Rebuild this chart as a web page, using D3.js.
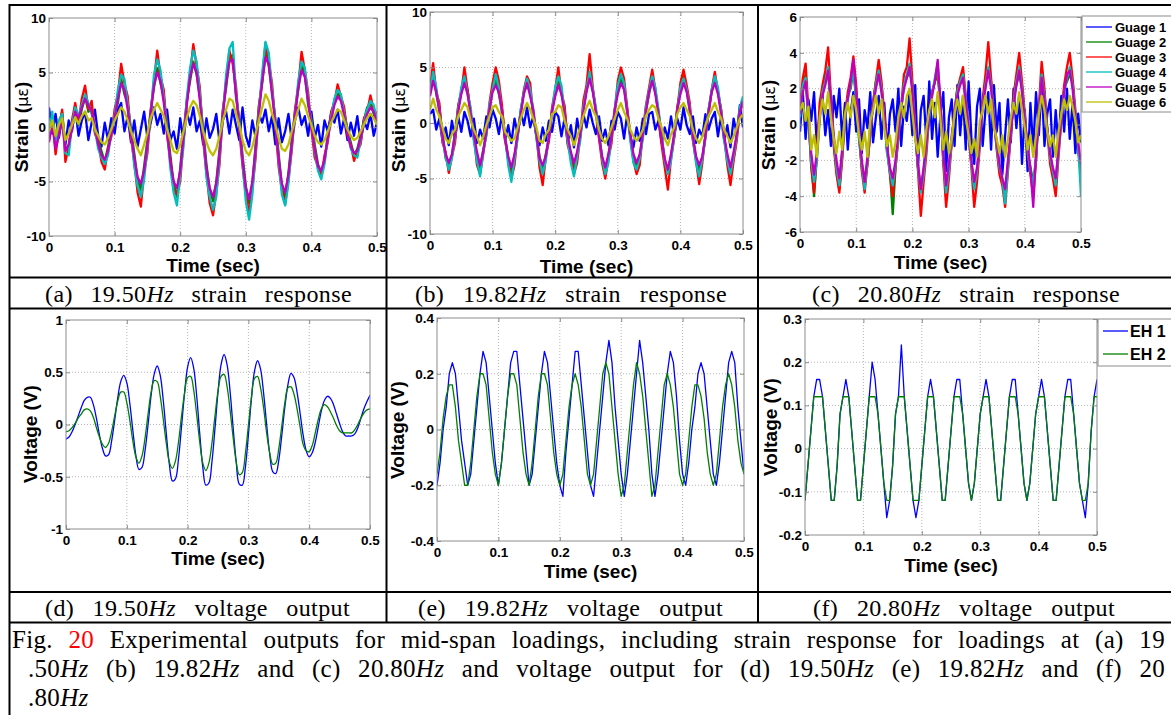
<!DOCTYPE html>
<html><head><meta charset="utf-8">
<script src="https://cdn.jsdelivr.net/npm/d3@7"></script>
<style>
body{margin:0;background:#fff;}
svg{display:block;}
</style></head><body>
<svg id="fig" width="1171" height="715"></svg>
<script>
// ---------------- data ----------------
const sampleStep = 0.005; // seconds between samples, t = 0 .. 0.5
const xTicks = [0, 0.1, 0.2, 0.3, 0.4, 0.5];
const xTickLabels = ["0", "0.1", "0.2", "0.3", "0.4", "0.5"];

const gaugeNames = ["Guage 1", "Guage 2", "Guage 3", "Guage 4", "Guage 5", "Guage 6"];
const gaugeColors = ["#0000ff", "#008000", "#ff0000", "#00bfbf", "#bf00bf", "#bfbf00"];
const ehNames = ["EH 1", "EH 2"];
const ehColors = ["#0000ff", "#008000"];

const yTicksA = [-10, -5, 0, 5, 10];
const yTicksB = [-10, -5, 0, 5, 10];
const yTicksC = [-6, -4, -2, 0, 2, 4, 6];
const yTicksD = [-1, -0.5, 0, 0.5, 1];
const yTicksE = [-0.4, -0.2, 0, 0.2, 0.4];
const yTicksF = [-0.2, -0.1, 0, 0.1, 0.2, 0.3];

// (a) 19.50 Hz strain (micro-strain)
const a_g1 = [1.8,-0.6,1.2,-1.0,0.8,-1.6,0.6,-0.4,1.8,-0.8,
 0.6,1.4,-1.2,0.4,1.6,-0.8,-1.8,0.4,-1.2,0.8,
 -0.6,1.6,2.2,-0.4,1.0,-1.4,0.6,-1.8,-0.2,1.4,
 -1.0,0.4,1.8,0.2,1.2,-0.6,1.6,-1.2,-0.4,-2.0,
 0.8,-1.2,1.4,0.2,1.8,-0.4,0.6,-1.6,0.8,-1.0,
 -0.2,1.2,-1.4,0.6,1.4,-0.6,1.6,0.2,-1.2,1.8,
 -0.8,-1.8,0.6,-1.0,1.2,0.4,1.6,-0.4,1.0,-1.6,
 0.8,-1.4,-0.4,1.2,-1.2,0.6,1.8,0.2,1.0,-0.8,
 1.4,-1.0,0.2,-1.8,0.6,-0.4,1.2,0.4,1.6,-0.6,
 0.8,-1.2,0.4,-0.8,1.0,-1.4,0.6,-0.2,1.2,-0.8,
 0.4];
const a_g2 = [-0.6,1.0,-1.2,0.2,1.4,-1.8,-2.0,0.4,1.2,0.2,
 1.6,2.8,1.4,1.8,-0.4,-1.2,-2.2,-3.2,-1.8,-0.2,
 1.2,2.2,4.4,3.0,2.2,-0.2,-2.4,-4.8,-5.8,-3.6,
 -1.2,1.6,3.6,5.4,4.0,2.8,0.2,-2.6,-5.2,-6.4,
 -3.8,-0.6,2.4,4.2,6.0,4.8,2.8,-0.2,-3.4,-5.8,
 -6.8,-5.0,-2.0,1.6,3.6,6.2,6.6,2.8,0.8,-2.6,
 -5.4,-7.0,-5.2,-1.6,2.0,4.0,6.8,5.6,3.2,0.8,
 -2.4,-5.6,-6.4,-4.2,-1.2,1.4,3.4,5.8,4.8,2.0,
 0.8,-1.6,-3.4,-4.2,-3.2,-0.6,1.0,2.4,3.2,2.6,
 1.4,-0.2,-1.4,-2.6,-2.0,-0.8,0.6,1.8,2.2,1.2,
 0.2];
const a_g3 = [-1.2,0.8,-2.5,-0.4,1.6,-3.2,-1.8,0.6,2.2,0.4,
 2.6,3.8,1.6,2.4,-0.6,-1.4,-3.2,-3.9,-2.0,-0.9,
 1.6,3.0,5.8,4.0,2.8,-1.0,-3.2,-6.0,-7.3,-4.2,
 -2.4,1.4,4.2,7.0,4.6,3.4,-0.8,-3.0,-5.8,-6.2,
 -5.0,-1.2,2.2,4.8,7.6,5.6,3.6,-1.2,-4.2,-7.0,
 -8.1,-6.0,-3.4,1.4,4.2,7.0,5.8,3.8,-0.2,-3.6,
 -6.2,-7.9,-5.6,-2.8,1.8,4.4,7.7,6.0,4.0,0.2,
 -3.6,-5.8,-7.1,-4.8,-2.2,1.6,3.8,6.9,5.2,3.2,
 -0.2,-2.8,-3.6,-4.6,-2.6,-1.4,1.4,2.2,3.9,2.8,
 1.8,-0.8,-1.6,-3.1,-2.2,-1.6,0.8,1.4,2.9,1.6,
 1.2];
const a_g4 = [-0.8,1.4,-1.6,0.6,1.2,-2.4,-2.6,0.2,1.8,1.0,
 2.0,3.0,2.2,1.2,-0.2,-2.0,-2.8,-3.4,-2.6,-0.4,
 1.0,3.4,4.8,4.4,2.0,-0.4,-3.6,-5.4,-6.4,-4.8,
 -1.8,1.0,4.8,6.2,5.2,2.6,-0.2,-3.8,-6.0,-7.2,
 -4.4,-1.8,2.6,5.4,7.0,6.0,3.0,-0.6,-4.6,-6.4,
 -7.6,-6.4,-2.8,1.0,4.8,7.2,7.8,3.2,0.4,-3.2,
 -6.8,-8.5,-6.2,-2.2,1.4,5.0,7.8,6.8,3.4,0.6,
 -3.0,-6.2,-7.2,-5.2,-1.8,1.0,4.2,6.0,5.4,2.6,
 0.4,-2.2,-4.0,-4.8,-3.4,-1.0,0.8,2.6,3.4,3.0,
 1.2,-0.4,-2.0,-2.6,-2.8,-1.2,0.4,1.6,2.4,2.0,
 0.6];
const a_g5 = [-1.4,0.4,-2.0,-0.8,0.8,-2.2,-1.6,-0.2,1.4,0.8,
 1.8,2.6,2.0,1.4,0.0,-1.6,-2.6,-3.0,-2.2,-0.6,
 0.8,2.6,4.0,3.4,1.6,-0.6,-2.8,-4.6,-5.2,-4.0,
 -1.6,1.2,3.8,5.0,4.2,2.2,-0.4,-3.2,-5.0,-5.6,
 -4.0,-1.0,2.0,4.6,5.8,5.0,2.4,-0.8,-3.8,-5.6,
 -6.4,-5.2,-2.4,1.0,4.0,6.0,6.2,3.0,0.2,-3.0,
 -5.6,-6.6,-5.0,-2.0,1.2,4.2,6.4,5.8,3.0,0.4,
 -2.8,-5.2,-6.0,-4.4,-1.6,1.0,3.6,5.2,4.6,2.4,
 0.2,-2.0,-3.6,-4.0,-3.0,-1.0,0.6,2.0,2.8,2.4,
 1.0,-0.6,-1.8,-2.4,-2.2,-1.0,0.2,1.2,1.8,1.4,
 0.4];
const a_g6 = [-0.4,0.6,-0.8,0.2,0.8,-1.2,-0.6,0.2,0.9,0.3,
 1.0,1.4,0.6,0.8,-0.2,-0.8,-1.4,-1.6,-1.0,-0.2,
 0.6,1.2,1.8,1.4,0.6,-0.4,-1.2,-2.0,-2.6,-1.6,
 -0.6,0.8,1.6,2.2,1.6,1.0,-0.2,-1.2,-2.2,-2.4,
 -1.6,-0.4,0.8,1.8,2.4,2.0,1.0,-0.4,-1.4,-2.2,
 -2.6,-2.0,-0.8,0.6,1.6,2.6,2.4,1.2,0.2,-1.2,
 -2.2,-2.6,-1.8,-0.6,0.6,1.8,3.0,2.4,1.2,0.2,
 -1.0,-2.0,-2.2,-1.6,-0.4,0.6,1.6,2.6,2.0,1.0,
 0.2,-0.8,-1.4,-1.6,-1.2,-0.4,0.4,1.0,1.6,1.4,
 0.6,-0.2,-0.8,-1.2,-1.0,-0.4,0.2,0.8,1.2,0.8,
 0.2];

// (b) 19.82 Hz strain
const b_g1 = [0.8,
 1.2,-0.6,0.4,-1.6,-0.4,-2.0,0.2,-1.4,0.6,-0.8,
 1.0,0.2,-1.2,0.4,-1.8,-0.6,-1.4,0.6,-0.4,1.2,
 0.4,-1.0,0.8,-1.6,-0.2,-1.8,0.4,-1.0,1.0,-0.2,
 1.4,-0.4,0.6,-1.2,-2.0,-0.4,-1.6,0.2,-0.8,1.0,
 0.6,-1.2,0.4,-1.8,-0.2,-2.2,0.4,-1.2,0.8,-0.4,
 1.2,0.0,-1.0,0.6,-1.6,-0.6,-2.0,0.2,-0.6,1.0,
 0.4,-1.4,0.8,-1.2,-2.2,-0.4,-1.6,0.4,-1.0,0.8,
 1.0,-0.6,0.2,-1.8,-0.4,-1.4,0.6,-1.2,0.4,-0.6,
 1.4,-0.2,-1.0,0.6,-1.8,-0.6,-1.2,0.8,-0.6,0.4,
 1.0,-1.2,0.6,-1.6,-0.2,-2.2,0.4,-1.0,1.6,-0.4];
const b_g2 = [2.8,
 4.8,2.6,1.4,-1.0,-3.2,-3.8,-3.0,-0.8,1.4,2.8,
 3.8,3.0,1.0,-1.4,-3.0,-4.0,-2.4,-1.0,1.0,3.2,
 3.8,2.6,1.2,-1.2,-3.4,-4.4,-3.0,-1.2,1.2,2.8,
 3.4,2.8,0.8,-1.2,-3.0,-4.2,-2.8,-1.4,1.2,2.6,
 4.0,2.8,1.2,-1.4,-3.0,-4.0,-2.8,-1.2,1.2,3.0,
 4.4,3.0,1.2,-1.0,-3.2,-4.2,-3.0,-1.0,1.0,3.0,
 4.0,3.2,1.2,-1.2,-3.0,-4.0,-3.0,-1.2,1.2,2.6,
 4.0,2.8,1.0,-1.2,-3.4,-4.4,-3.0,-1.2,1.4,3.0,
 4.2,3.0,1.0,-1.4,-3.2,-4.2,-3.2,-1.2,1.2,2.8,
 4.0,2.8,1.2,-1.4,-3.2,-4.4,-3.2,-1.2,1.2,1.6];
const b_g3 = [3.2,
 5.4,2.8,1.8,-1.8,-2.6,-4.5,-3.0,-1.8,1.6,2.8,
 5.0,3.0,0.8,-1.0,-3.8,-4.6,-2.8,-0.8,1.8,3.6,
 5.0,3.8,1.6,-1.6,-3.2,-5.0,-3.8,-1.0,0.8,3.0,
 4.2,3.6,0.6,-1.0,-4.0,-5.6,-3.0,-1.6,1.4,3.0,
 5.0,2.6,1.6,-2.0,-3.0,-4.6,-3.6,-1.2,2.0,3.4,
 6.2,3.2,1.0,-1.4,-3.6,-5.0,-3.2,-1.8,1.0,3.8,
 5.0,4.0,1.4,-1.2,-3.4,-4.6,-3.8,-0.8,1.6,3.2,
 4.8,3.0,0.6,-2.0,-4.0,-6.0,-3.2,-1.4,1.2,3.6,
 4.8,3.4,1.8,-1.6,-3.4,-5.5,-3.6,-1.0,0.8,3.0,
 4.6,2.8,1.2,-1.2,-3.8,-5.6,-3.4,-1.6,1.0,2.0];
const b_g4 = [2.6,
 4.6,3.2,1.0,-1.4,-3.0,-4.2,-3.2,-1.2,1.2,3.2,
 4.2,2.6,1.4,-1.6,-3.4,-4.8,-2.6,-1.2,1.6,3.0,
 4.4,3.2,0.8,-1.2,-3.8,-5.3,-3.2,-1.4,1.2,2.8,
 4.0,3.0,1.2,-1.4,-3.4,-4.6,-3.4,-1.0,1.0,3.2,
 4.2,3.4,0.8,-1.6,-3.6,-4.8,-3.0,-1.6,1.4,3.0,
 4.6,3.0,1.4,-1.0,-3.2,-4.6,-3.6,-1.2,1.2,3.4,
 4.4,3.6,1.0,-1.6,-3.6,-4.2,-3.2,-1.4,1.4,3.0,
 4.2,3.2,1.2,-1.2,-3.4,-4.6,-3.4,-1.2,1.0,3.2,
 4.0,3.0,1.4,-1.4,-3.6,-4.8,-3.2,-1.4,1.2,3.0,
 4.2,3.2,1.0,-1.6,-3.4,-4.6,-3.0,-1.2,1.4,2.4];
const b_g5 = [2.4,
 3.8,2.8,1.0,-1.2,-2.8,-3.6,-2.8,-1.0,1.0,2.6,
 3.6,2.6,0.8,-1.0,-2.6,-3.8,-2.6,-0.8,1.2,2.8,
 3.4,2.8,1.0,-1.4,-3.0,-4.0,-2.8,-1.0,0.8,2.6,
 3.6,2.4,1.2,-1.0,-3.2,-3.8,-3.0,-1.2,1.0,2.4,
 3.4,2.6,0.8,-1.2,-2.6,-3.6,-2.6,-1.0,1.0,2.8,
 4.0,2.8,1.0,-1.2,-3.0,-4.0,-2.8,-1.2,1.2,2.6,
 3.6,3.0,1.0,-1.0,-2.8,-3.6,-2.8,-1.0,1.0,2.8,
 3.8,2.6,0.8,-1.4,-3.2,-4.2,-2.8,-1.0,1.2,2.6,
 3.6,2.8,1.2,-1.2,-3.0,-3.8,-3.0,-1.2,1.0,2.8,
 3.6,2.6,0.8,-1.2,-2.8,-4.0,-2.6,-1.0,1.0,2.0];
const b_g6 = [1.2,
 2.2,1.2,0.6,-0.4,-1.4,-1.8,-1.0,-0.6,0.6,1.2,
 1.8,1.4,0.2,-0.6,-1.2,-2.0,-1.2,-0.2,0.6,1.4,
 1.6,1.0,0.6,-0.8,-1.2,-1.6,-1.4,-0.4,0.4,1.2,
 1.8,1.2,0.4,-0.4,-1.6,-1.8,-1.0,-0.6,0.8,1.0,
 1.6,1.4,0.2,-0.6,-1.2,-2.0,-1.2,-0.4,0.6,1.4,
 2.0,1.2,0.6,-0.6,-1.4,-1.8,-1.2,-0.4,0.4,1.2,
 1.8,1.0,0.4,-0.6,-1.2,-1.6,-1.2,-0.6,0.6,1.2,
 1.6,1.4,0.4,-0.4,-1.4,-2.0,-1.0,-0.4,0.8,1.4,
 1.8,1.2,0.6,-0.6,-1.4,-1.8,-1.2,-0.2,0.6,1.2,
 1.8,1.0,0.4,-0.6,-1.2,-1.8,-1.2,-0.4,0.4,0.8];

// (c) 20.80 Hz strain
const c_g1 = [-0.4,1.8,-0.8,1.4,0.2,1.8,-1.2,0.6,1.6,-0.6,
 0.8,-1.2,1.6,0.4,2.0,-0.8,1.2,-1.4,0.6,1.8,
 -0.4,1.4,-1.6,0.8,-0.2,1.8,-1.0,0.4,1.6,-0.8,
 1.2,-1.6,0.6,1.4,-0.4,2.0,-1.2,1.0,0.2,1.8,
 -0.6,2.2,-2.4,0.8,1.6,-1.0,2.4,-0.8,1.2,-1.8,
 0.6,1.8,-2.6,0.4,1.4,-1.2,2.2,-0.6,1.6,-1.4,
 2.4,-0.8,-2.2,1.0,2.0,-1.2,0.8,1.8,-1.4,2.2,
 -0.4,1.2,-2.8,-0.6,1.4,-1.0,2.0,-0.2,1.6,-2.2,
 0.8,-2.6,1.2,-1.4,1.8,-0.6,2.4,-1.2,0.6,1.4,
 -1.8,0.8,-1.2,1.6,-0.4,2.0,-0.8,1.2,-1.6,0.6,
 -1.0];
const c_g2 = [0.8,2.0,2.8,0.2,-2.2,-4.0,-1.8,0.6,1.6,2.8,
 2.8,1.0,-1.0,-2.6,-3.6,-1.8,0.6,1.6,2.0,3.0,
 1.4,-0.8,-2.4,-3.4,-2.2,-0.4,1.2,2.4,2.6,2.2,
 0.2,-1.4,-2.6,-5.0,-2.4,-0.6,0.8,2.2,2.6,3.0,
 2.2,-0.6,-2.4,-3.6,-2.6,-1.0,0.4,1.8,2.4,2.8,
 1.0,-2.0,-3.6,-2.4,-1.0,0.6,2.0,2.4,2.6,1.4,
 -0.6,-2.2,-3.4,-2.8,-0.8,1.2,2.4,2.8,2.4,0.2,
 -1.2,-2.6,-3.2,-4.0,-2.2,-0.6,1.4,2.2,2.8,2.2,
 0.4,-1.6,-2.4,-3.2,-2.0,0.8,2.4,1.8,-0.4,-1.6,
 -2.8,-3.4,-1.2,0.6,2.0,2.4,2.8,2.4,0.4,-1.4,
 -3.0];
const c_g3 = [1.0,2.6,3.4,0.8,-2.4,-3.8,-1.6,1.2,2.2,3.0,
 4.3,1.6,-1.2,-2.8,-3.8,-2.0,0.4,1.8,2.6,3.8,
 2.2,-0.4,-2.6,-3.8,-2.2,-0.6,1.2,2.4,3.6,2.4,
 0.6,-1.4,-2.8,-4.0,-2.4,-0.8,1.0,2.8,3.2,4.8,
 2.4,-0.2,-2.6,-5.1,-3.2,-1.6,0.6,1.8,2.4,3.0,
 1.2,-2.2,-4.6,-3.0,-1.0,0.8,2.0,2.6,3.2,1.6,
 -0.6,-2.4,-4.6,-3.2,-1.2,1.4,2.8,4.6,2.6,0.4,
 -1.4,-2.8,-3.4,-4.6,-2.6,-0.6,1.6,2.8,4.0,2.4,
 0.6,-1.6,-2.8,-4.0,-2.0,1.0,3.5,2.0,-0.4,-2.2,
 -3.0,-4.0,-1.8,0.2,2.2,3.2,4.0,2.6,0.8,-1.4,
 -2.6];
const c_g4 = [0.4,2.2,2.6,0.4,-2.0,-3.2,-2.0,0.2,1.8,2.4,
 3.2,1.2,-0.8,-2.4,-3.4,-1.6,0.2,1.4,2.2,3.0,
 1.6,-0.6,-2.2,-3.6,-2.0,-0.4,1.0,2.2,3.0,2.0,
 0.2,-1.6,-2.6,-3.4,-2.2,-0.6,0.8,2.2,2.8,3.4,
 2.0,-0.4,-2.4,-3.8,-2.8,-1.2,0.4,1.6,2.6,3.4,
 1.0,-1.8,-3.8,-2.6,-0.8,0.6,1.8,2.4,2.8,1.4,
 -0.4,-2.2,-3.6,-2.6,-1.0,1.0,2.2,3.2,2.2,0.6,
 -1.2,-2.4,-3.0,-4.4,-2.4,-0.4,1.2,2.4,3.2,2.0,
 0.4,-1.4,-2.6,-3.4,-1.8,0.6,2.8,1.6,-0.2,-1.8,
 -2.6,-3.4,-1.6,0.4,1.8,2.6,3.2,2.2,0.6,-1.2,
 -4.0];
const c_g5 = [0.6,1.8,2.4,0.6,-1.6,-2.8,-1.6,0.4,1.6,2.2,
 3.0,1.4,-0.6,-2.0,-3.0,-1.4,0.4,1.4,2.4,3.6,
 1.8,-0.2,-2.0,-3.2,-1.8,-0.2,1.0,2.0,2.8,1.8,
 0.4,-1.2,-2.4,-3.0,-2.0,-0.4,1.0,2.0,2.6,3.2,
 1.8,-0.2,-2.2,-3.6,-2.4,-1.0,0.6,1.6,2.4,3.6,
 1.2,-1.6,-3.4,-2.2,-0.6,0.6,1.6,2.2,2.6,1.2,
 -0.2,-2.0,-3.2,-2.4,-0.8,1.0,2.0,3.0,2.0,0.4,
 -1.0,-2.2,-3.0,-3.6,-2.0,-0.4,1.0,2.2,3.0,1.8,
 0.2,-1.2,-2.4,-4.6,-1.6,0.4,2.6,1.4,-0.2,-1.6,
 -2.4,-3.0,-1.4,0.4,1.8,2.8,3.0,2.0,0.4,-1.0,
 -2.2];
const c_g6 = [0.8,1.2,0.2,1.0,-1.4,-0.6,-1.8,0.4,1.4,0.6,
 1.8,0.4,-0.8,-1.6,-0.4,-1.4,0.6,1.2,0.4,1.6,
 0.8,-0.6,-1.4,-0.4,-1.8,0.2,0.8,1.6,0.6,1.4,
 -0.2,-1.2,-0.6,-1.8,-1.0,0.4,1.2,0.4,1.6,2.0,
 0.6,-0.8,-1.6,-0.6,-1.8,-0.2,0.8,1.4,0.4,1.8,
 0.2,-1.4,-0.4,-1.6,-0.8,0.6,1.4,0.6,1.6,0.4,
 -0.6,-1.6,-0.8,-1.8,0.2,0.8,1.6,0.6,1.4,-0.2,
 -0.8,-1.6,-0.6,-1.8,-0.8,0.4,1.2,0.6,1.8,0.8,
 -0.2,-1.4,-0.6,-1.8,-0.6,0.6,1.6,0.8,-0.4,-1.2,
 -0.6,-1.8,-0.4,0.6,1.4,0.8,1.6,1.0,0.2,-1.0,
 -0.6];

// (d) 19.50 Hz voltage (V)
const d_eh1 = [-0.14,-0.12,-0.07,0.00,0.08,0.16,0.23,0.26,0.26,0.19,
 0.06,-0.10,-0.23,-0.30,-0.29,-0.16,0.04,0.25,0.41,0.47,
 0.40,0.20,-0.06,-0.30,-0.43,-0.41,-0.25,0.00,0.28,0.48,
 0.56,0.47,0.23,-0.09,-0.38,-0.54,-0.52,-0.33,-0.02,0.30,
 0.55,0.64,0.54,0.27,-0.09,-0.41,-0.58,-0.56,-0.36,-0.04,
 0.31,0.57,0.67,0.57,0.31,-0.04,-0.36,-0.57,-0.58,-0.41,
 -0.10,0.25,0.51,0.61,0.53,0.30,0.00,-0.28,-0.45,-0.47,
 -0.34,-0.10,0.17,0.38,0.49,0.45,0.31,0.11,-0.10,-0.25,
 -0.31,-0.27,-0.17,-0.02,0.13,0.23,0.27,0.25,0.19,0.10,
 0.01,-0.07,-0.11,-0.11,-0.11,-0.09,-0.03,0.06,0.15,0.22,
 0.28];
const d_eh2 = [-0.07,-0.06,-0.03,0.01,0.06,0.10,0.14,0.15,0.13,0.07,
 -0.03,-0.12,-0.19,-0.22,-0.18,-0.07,0.08,0.22,0.31,0.31,
 0.21,0.04,-0.16,-0.31,-0.37,-0.30,-0.13,0.10,0.31,0.42,
 0.41,0.27,0.05,-0.18,-0.36,-0.42,-0.35,-0.17,0.08,0.30,
 0.45,0.46,0.33,0.09,-0.17,-0.37,-0.44,-0.37,-0.18,0.08,
 0.32,0.46,0.48,0.36,0.13,-0.13,-0.36,-0.48,-0.46,-0.28,
 -0.01,0.26,0.44,0.46,0.35,0.16,-0.08,-0.27,-0.38,-0.37,
 -0.23,-0.01,0.21,0.35,0.36,0.29,0.15,-0.02,-0.19,-0.25,
 -0.26,-0.20,-0.08,0.05,0.15,0.19,0.17,0.12,0.06,-0.01,
 -0.06,-0.08,-0.08,-0.08,-0.08,-0.05,0.00,0.06,0.11,0.14,
 0.15];

// (e) 19.82 Hz voltage (V)
const e_eh1 = [-0.20,-0.12,0.00,0.08,0.20,0.24,0.20,0.08,-0.04,-0.12,
 -0.20,-0.16,-0.04,0.08,0.20,0.28,0.24,0.12,0.00,-0.12,
 -0.20,-0.12,0.00,0.12,0.24,0.28,0.28,0.16,0.04,-0.08,
 -0.20,-0.16,-0.04,0.08,0.20,0.28,0.24,0.12,0.00,-0.12,
 -0.20,-0.24,-0.08,0.04,0.16,0.28,0.28,0.16,0.04,-0.08,
 -0.20,-0.24,-0.12,0.00,0.12,0.24,0.32,0.24,0.08,-0.04,
 -0.16,-0.24,-0.16,-0.04,0.08,0.20,0.32,0.24,0.12,0.00,
 -0.16,-0.24,-0.16,-0.04,0.08,0.20,0.28,0.24,0.12,-0.04,
 -0.16,-0.20,-0.12,0.00,0.08,0.20,0.24,0.20,0.08,-0.04,
 -0.16,-0.20,-0.12,0.00,0.12,0.24,0.28,0.24,0.08,-0.04,
 -0.16];
const e_eh2 = [-0.16,-0.08,0.04,0.12,0.16,0.16,0.08,-0.04,-0.12,-0.20,
 -0.20,-0.12,0.00,0.12,0.20,0.20,0.16,0.04,-0.08,-0.16,
 -0.20,-0.12,0.00,0.12,0.20,0.20,0.16,0.04,-0.08,-0.16,
 -0.20,-0.12,0.00,0.12,0.20,0.20,0.16,0.04,-0.08,-0.16,
 -0.20,-0.16,-0.04,0.08,0.16,0.20,0.16,0.08,-0.04,-0.16,
 -0.20,-0.16,-0.04,0.08,0.20,0.24,0.20,0.08,-0.04,-0.16,
 -0.24,-0.20,-0.08,0.04,0.16,0.24,0.20,0.12,0.00,-0.12,
 -0.24,-0.20,-0.08,0.04,0.16,0.20,0.16,0.08,-0.04,-0.16,
 -0.20,-0.16,-0.04,0.08,0.16,0.16,0.12,0.04,-0.08,-0.16,
 -0.20,-0.16,-0.04,0.08,0.16,0.20,0.16,0.08,-0.04,-0.12,
 -0.16];

// (f) 20.80 Hz voltage (V)
const f_eh1 = [-0.12,-0.04,0.04,0.12,0.16,0.16,0.12,0.04,-0.04,-0.12,
 -0.12,-0.04,0.08,0.12,0.16,0.12,0.04,-0.04,-0.12,-0.12,
 -0.04,0.04,0.12,0.20,0.16,0.08,0.00,-0.08,-0.16,-0.12,
 -0.04,0.08,0.12,0.24,0.12,0.04,-0.04,-0.12,-0.16,-0.12,
 -0.04,0.04,0.12,0.16,0.12,0.04,-0.04,-0.12,-0.12,-0.04,
 0.04,0.12,0.16,0.16,0.08,0.00,-0.08,-0.12,-0.08,0.00,
 0.08,0.12,0.16,0.12,0.04,-0.04,-0.12,-0.12,-0.04,0.04,
 0.12,0.16,0.16,0.08,0.00,-0.08,-0.12,-0.08,0.00,0.08,
 0.12,0.16,0.12,0.04,-0.04,-0.12,-0.12,-0.04,0.04,0.12,
 0.16,0.16,0.08,0.00,-0.08,-0.12,-0.16,-0.08,0.04,0.12,
 0.16];
const f_eh2 = [-0.12,-0.04,0.04,0.12,0.12,0.12,0.12,0.04,-0.04,-0.12,
 -0.12,-0.04,0.08,0.12,0.12,0.12,0.04,-0.04,-0.12,-0.12,
 -0.04,0.04,0.12,0.12,0.12,0.08,0.00,-0.08,-0.12,-0.12,
 -0.04,0.08,0.12,0.12,0.12,0.04,-0.04,-0.12,-0.12,-0.12,
 -0.04,0.04,0.12,0.12,0.12,0.04,-0.04,-0.12,-0.12,-0.04,
 0.04,0.12,0.12,0.12,0.08,0.00,-0.08,-0.12,-0.08,0.00,
 0.08,0.12,0.12,0.12,0.04,-0.04,-0.12,-0.12,-0.04,0.04,
 0.12,0.12,0.12,0.08,0.00,-0.08,-0.12,-0.08,0.00,0.08,
 0.12,0.12,0.12,0.04,-0.04,-0.12,-0.12,-0.04,0.04,0.12,
 0.12,0.12,0.08,0.00,-0.08,-0.12,-0.12,-0.08,0.04,0.12,
 0.12];

// captions
const subCaptions = [
  ["(a)", "19.50", "strain", "response"],
  ["(b)", "19.82", "strain", "response"],
  ["(c)", "20.80", "strain", "response"],
  ["(d)", "19.50", "voltage", "output"],
  ["(e)", "19.82", "voltage", "output"],
  ["(f)", "20.80", "voltage", "output"]
];

// ---------------- layout ----------------
const svg = d3.select("#fig");
svg.append("rect").attr("width", 1171).attr("height", 715).attr("fill", "#fff");

const panels = [
  {x0:49, x1:377, y0:18, y1:236, dom:[-10,10], yt:yTicksA, series:[a_g1,a_g2,a_g3,a_g4,a_g5,a_g6], colors:gaugeColors, type:"strain", lx:21, ly:127, tb:272, cap:0, capX0:45, capX1:352, capY:302},
  {x0:430, x1:743, y0:12, y1:234, dom:[-10,10], yt:yTicksB, series:[b_g1,b_g2,b_g3,b_g4,b_g5,b_g6], colors:gaugeColors, type:"strain", lx:398, ly:127, tb:273, cap:1, capX0:415, capX1:727, capY:302},
  {x0:800, x1:1081, y0:17, y1:232, dom:[-6,6], yt:yTicksC, series:[c_g1,c_g2,c_g3,c_g4,c_g5,c_g6], colors:gaugeColors, type:"strain", lx:768, ly:125, tb:269, cap:2, capX0:812, capX1:1120, capY:302, legend:{x:1082, y:16, h:96, names:gaugeNames, colors:gaugeColors, fs:13, row:15, first:27, lx0:1086, lx1:1112, tx:1115}},
  {x0:66, x1:370, y0:320, y1:529, dom:[-1,1], yt:yTicksD, series:[d_eh1,d_eh2], colors:ehColors, type:"volt", curve:true, lx:30, ly:434, tb:565, cap:3, capX0:45, capX1:350, capY:616},
  {x0:437, x1:744, y0:318, y1:541, dom:[-0.4,0.4], yt:yTicksE, series:[e_eh1,e_eh2], colors:ehColors, type:"volt", lx:397, ly:430, tb:578, cap:4, capX0:418, capX1:723, capY:616},
  {x0:805, x1:1097, y0:319, y1:535, dom:[-0.2,0.3], yt:yTicksF, series:[f_eh1,f_eh2], colors:ehColors, type:"volt", lx:770, ly:427, tb:572, cap:5, capX0:813, capX1:1115, capY:616, legend:{x:1098, y:319, h:47, names:ehNames, colors:ehColors, fs:16, row:23, first:331, lx0:1103, lx1:1128, tx:1130}}
];

const SANS = "'Liberation Sans', Arial, Helvetica, sans-serif";
const SERIF = "'Liberation Serif', 'Times New Roman', serif";
const BOX = "#8c8c8c";

// justify a text element to a target width: fixed letter spacing, then word spacing
function justify(t, target, ls) {
  t.attr("letter-spacing", ls || 0);
  const w = t.node().getBBox().width;
  const n = (t.text().match(/ /g) || []).length;
  if (w < target && n > 0) t.attr("word-spacing", ((target - w) / n).toFixed(2));
  else if (w > target) t.attr("textLength", target).attr("lengthAdjust", "spacingAndGlyphs");
}

panels.forEach((p, pi) => {
  const g = svg.append("g");
  const x = d3.scaleLinear().domain([0, 0.5]).range([p.x0, p.x1]);
  const y = d3.scaleLinear().domain(p.dom).range([p.y1, p.y0]);

  g.append("rect").attr("x", p.x0).attr("y", p.y0).attr("width", p.x1 - p.x0).attr("height", p.y1 - p.y0).attr("fill", "#fff");

  g.append("g").selectAll("line").data(xTicks.slice(1, -1)).join("line")
    .attr("x1", d => x(d)).attr("x2", d => x(d)).attr("y1", p.y0).attr("y2", p.y1)
    .attr("stroke", "#b4b4b4").attr("stroke-width", 1).attr("stroke-dasharray", "1,2");
  g.append("g").selectAll("line").data(p.yt.slice(1, -1)).join("line")
    .attr("x1", p.x0).attr("x2", p.x1).attr("y1", d => y(d)).attr("y2", d => y(d))
    .attr("stroke", "#b4b4b4").attr("stroke-width", 1).attr("stroke-dasharray", "1,2");

  const cid = "clip" + pi;
  svg.append("clipPath").attr("id", cid).append("rect")
    .attr("x", p.x0).attr("y", p.y0).attr("width", p.x1 - p.x0).attr("height", p.y1 - p.y0);

  const line = d3.line()
    .x((d, i) => x(i * sampleStep))
    .y(d => y(d))
    .curve(p.curve ? d3.curveCatmullRom.alpha(0.5) : d3.curveLinear);

  const lg = g.append("g").attr("clip-path", `url(#${cid})`);
  p.series.forEach((s, si) => {
    lg.append("path").datum(s).attr("d", line)
      .attr("fill", "none").attr("stroke", p.colors[si])
      .attr("stroke-width", p.type === "strain" ? 2.3 : 1.3)
      .attr("stroke-linejoin", "round");
  });

  const ax = g.append("g").attr("transform", `translate(0,${p.y1})`)
    .call(d3.axisBottom(x).tickValues(xTicks).tickFormat((d, i) => xTickLabels[i]).tickSizeInner(-4).tickSizeOuter(0).tickPadding(6));
  const ay = g.append("g").attr("transform", `translate(${p.x0},0)`)
    .call(d3.axisLeft(y).tickValues(p.yt).tickFormat(d => String(d)).tickSizeInner(-4).tickSizeOuter(0).tickPadding(3));
  const at = g.append("g").attr("transform", `translate(0,${p.y0})`)
    .call(d3.axisTop(x).tickValues(xTicks).tickFormat("").tickSizeInner(-4).tickSizeOuter(0));
  const ar = g.append("g").attr("transform", `translate(${p.x1},0)`)
    .call(d3.axisRight(y).tickValues(p.yt).tickFormat("").tickSizeInner(-4).tickSizeOuter(0));
  [ax, ay, at, ar].forEach(a => {
    a.select(".domain").remove();
    a.selectAll(".tick line").attr("stroke", BOX);
    a.selectAll("text").attr("font-family", SANS).attr("font-weight", "bold").attr("font-size", 13.5).attr("fill", "#000");
  });

  g.append("rect").attr("x", p.x0).attr("y", p.y0).attr("width", p.x1 - p.x0).attr("height", p.y1 - p.y0)
    .attr("fill", "none").attr("stroke", BOX).attr("stroke-width", 1);

  g.append("text").attr("x", (p.x0 + p.x1) / 2).attr("y", p.tb)
    .attr("text-anchor", "middle").attr("font-family", SANS).attr("font-weight", "bold").attr("font-size", 19)
    .text("Time (sec)");
  const yl = g.append("text").attr("transform", `translate(${p.lx},${p.ly}) rotate(-90)`)
    .attr("dy", "0.36em").attr("text-anchor", "middle").attr("font-family", SANS).attr("font-weight", "bold").attr("font-size", 19);
  if (p.type === "strain") {
    yl.append("tspan").text("Strain (");
    yl.append("tspan").attr("font-weight", "normal").attr("font-family", "'DejaVu Sans', sans-serif").attr("font-size", 16).text("με");
    yl.append("tspan").text(")");
  } else {
    yl.text("Voltage (V)");
  }

  if (p.legend) {
    const L = p.legend;
    g.append("rect").attr("x", L.x).attr("y", L.y).attr("width", 120).attr("height", L.h)
      .attr("fill", "#fff").attr("stroke", BOX).attr("stroke-width", 1);
    L.names.forEach((n, i) => {
      const yy = L.first + i * L.row;
      g.append("line").attr("x1", L.lx0).attr("x2", L.lx1).attr("y1", yy).attr("y2", yy)
        .attr("stroke", L.colors[i]).attr("stroke-width", 1.3);
      g.append("text").attr("x", L.tx).attr("y", yy).attr("dy", "0.36em")
        .attr("font-family", SANS).attr("font-weight", "bold").attr("font-size", L.fs).text(n);
    });
  }

  const c = subCaptions[p.cap];
  const ct = svg.append("text").attr("x", p.capX0).attr("y", p.capY)
    .attr("font-family", SERIF).attr("font-size", 24);
  ct.append("tspan").text(c[0] + " " + c[1]);
  ct.append("tspan").attr("font-style", "italic").text("Hz");
  ct.append("tspan").text(" " + c[2] + " " + c[3]);
  justify(ct, p.capX1 - p.capX0, 0.4);
});

// ---------------- table borders ----------------
const B = svg.append("g").attr("stroke", "#000").attr("stroke-width", 2);
[[9.5, 5, 1171, 5], [9.5, 277.5, 1171, 277.5], [9.5, 308.5, 1171, 308.5], [9.5, 592, 1171, 592], [9.5, 622.5, 1171, 622.5],
 [9.5, 4, 9.5, 715], [386.5, 4, 386.5, 623], [758, 4, 758, 623]].forEach(l => {
  B.append("line").attr("x1", l[0]).attr("y1", l[1]).attr("x2", l[2]).attr("y2", l[3]);
});

// ---------------- figure caption ----------------
function capLine(x, y, len, parts) {
  const t = svg.append("text").attr("x", x).attr("y", y).attr("font-family", SERIF).attr("font-size", 25);
  parts.forEach(pt => {
    const s = t.append("tspan").text(pt[0]);
    if (pt[1] === "i") s.attr("font-style", "italic");
    if (pt[1] === "r") s.attr("fill", "#ff0000");
  });
  if (len) justify(t, len, 0.3);
  else t.attr("letter-spacing", 0.3);
}
capLine(12, 648, 1153, [["Fig. "], ["20", "r"], [" Experimental outputs for mid-span loadings, including strain response for loadings at (a) 19"]]);
capLine(28, 677, 1137, [[".50"], ["Hz", "i"], [" (b) 19.82"], ["Hz", "i"], [" and (c) 20.80"], ["Hz", "i"], [" and voltage output for (d) 19.50"], ["Hz", "i"], [" (e) 19.82"], ["Hz", "i"], [" and (f) 20"]]);
capLine(28, 706, null, [[".80"], ["Hz", "i"]]);
</script>
</body></html>
